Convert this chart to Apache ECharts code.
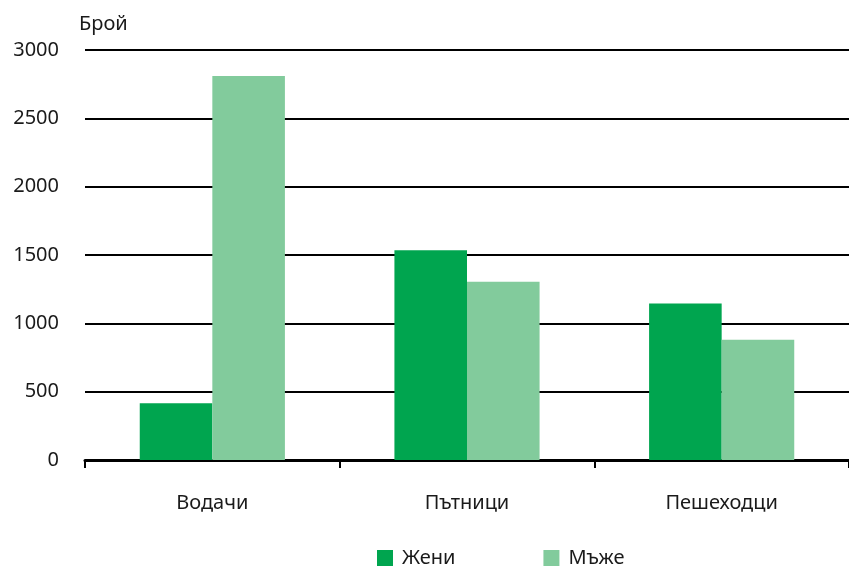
<!DOCTYPE html>
<html><head><meta charset="utf-8">
<script src="https://cdn.jsdelivr.net/npm/echarts@6/dist/echarts.min.js"></script>
<style>html,body{margin:0;padding:0;background:#fff}#c{width:849px;height:570px}</style>
</head><body><div id="c"></div>
<script>
const categories = ['Водачи', 'Пътници', 'Пешеходци'];
const women = [415, 1535, 1145];
const men = [2810, 1305, 880];
const seriesNames = ['Жени', 'Мъже'];
const yTicks = { min: 0, max: 3000, interval: 500 };

const font = '"Noto Sans", "Open Sans", sans-serif';
const chart = echarts.init(document.getElementById('c'));
chart.setOption({
  animation: false,
  textStyle: { fontFamily: font, color: '#1a1a1a' },
  grid: { left: 85, right: -6, top: 50, bottom: 110, containLabel: false },
  legend: {
    bottom: -3, left: 372, itemGap: 88, itemWidth: 16, itemHeight: 16,
    icon: 'rect',
    textStyle: { fontSize: 20, color: '#1a1a1a', fontFamily: font, padding: [0, 0, 0, 4] },
    data: seriesNames
  },
  xAxis: {
    type: 'category', data: categories,
    axisLine: { lineStyle: { color: '#000', width: 3 } },
    axisTick: { show: true, length: 8, lineStyle: { color: '#000', width: 2 } },
    axisLabel: { fontSize: 20, color: '#1a1a1a', margin: 33 }
  },
  yAxis: {
    type: 'value', min: yTicks.min, max: yTicks.max, interval: yTicks.interval,
    name: 'Брой', nameLocation: 'end', nameGap: 16,
    nameTextStyle: { fontSize: 20, color: '#1a1a1a', align: 'left', padding: [0, 0, 0, -6] },
    axisLine: { show: false }, axisTick: { show: false },
    axisLabel: { fontSize: 20, color: '#1a1a1a', margin: 26, formatter: v => String(v) },
    splitLine: { lineStyle: { color: '#000', width: 2 } }
  },
  series: [
    { name: seriesNames[0], type: 'bar', data: women, itemStyle: { color: '#00a54f' },
      barGap: '0%', barCategoryGap: '43%' },
    { name: seriesNames[1], type: 'bar', data: men, itemStyle: { color: '#82cb9c' },
      barGap: '0%', barCategoryGap: '43%' }
  ]
});
</script></body></html>
